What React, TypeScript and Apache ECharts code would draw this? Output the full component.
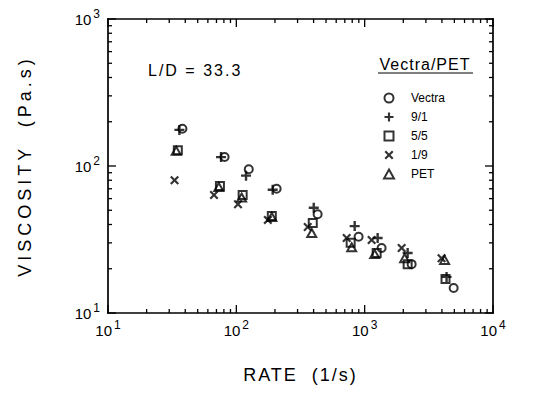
import React, { useEffect, useRef } from "react";
import * as echarts from "echarts";

// ---- data (rate [1/s], viscosity [Pa.s]) ----
const seriesNames = ["Vectra", "9/1", "5/5", "1/9", "PET"];
const vectraData = [[38, 179], [81, 115], [125, 95], [206, 70], [430, 47], [897, 33], [1355, 27.7], [2323, 21.5], [4935, 14.8]];
const blend91Data = [[36, 176], [76, 115], [119, 86], [192, 69], [401, 52], [836, 39], [1262, 32.4], [2162, 25.6], [4347, 17.6]];
const blend55Data = [[35, 128], [74.5, 73], [112, 63.5], [189, 45.7], [394, 41], [778, 30], [1240, 25.6], [2162, 21.5], [4266, 17]];
const blend19Data = [[33, 80], [67, 63.5], [103, 55], [176, 43], [360, 38.5], [724, 32.4], [1133, 31.4], [1941, 27.7], [3972, 23.6]];
const petData = [[34, 127], [73, 72], [110, 61], [189, 45], [387, 35], [792, 28], [1197, 25.2], [2047, 23.6], [4196, 23]];

const xRange = [10, 10000];
const yRange = [10, 1000];
const xTitle = "RATE  (1/s)";
const yTitle = "VISCOSITY  (Pa.s)";
const annotation = "L/D = 33.3";
const legendTitle = "Vectra/PET";

const FONT = "'Liberation Sans', Arial, Helvetica, sans-serif";

const SYM = {
  circle: "path://M5,0A5,5,0,1,1,5,10A5,5,0,1,1,5,0Z",
  plus: "path://M3.8,0H6.2V3.8H10V6.2H6.2V10H3.8V6.2H0V3.8H3.8Z",
  square: "path://M0,0H10V10H0Z",
  cross: "path://M0,1.7L1.7,0L5,3.3L8.3,0L10,1.7L6.7,5L10,8.3L8.3,10L5,6.7L1.7,10L0,8.3L3.3,5Z",
  triangle: "path://M5,0L10,9L0,9Z",
};

// log-paper tick marks (decades and 2..9 within each decade), as [value, length]
function decadeTicks(range: number[]) {
  const out: number[][] = [];
  for (let d = range[0]; d <= range[1]; d *= 10) {
    out.push([d, 8]);
    if (d < range[1]) for (let k = 2; k <= 9; k++) out.push([d * k, 4]);
  }
  return out;
}
const xTickData = decadeTicks(xRange).map(([v, len]) => [v, yRange[0], len]);
const yTickData = decadeTicks(yRange).map(([v, len]) => [xRange[0], v, len]);

const supLabel = (v: number) => `{b|10}{s|${Math.round(Math.log10(v))}}`;
const richSup = {
  b: { fontSize: 15, fontFamily: FONT, color: "#000" },
  s: { fontSize: 12, fontFamily: FONT, color: "#000", padding: [0, 0, 10, 2] },
};

const hiddenAxisParts = {
  axisLine: { show: false, onZero: false },
  axisTick: { show: false },
  minorTick: { show: false },
  splitLine: { show: false },
};

const INK = { fill: "#000" };
const TW = 1.3; // tick thickness
const FW = 1.7; // frame thickness

export default function App() {
  const ref = useRef<HTMLDivElement>(null);
  useEffect(() => {
    document.body.style.margin = "0";
    if (!ref.current) return;
    const el = ref.current;
    const chart = echarts.init(el, undefined, { renderer: "svg" });

    const outlined = { color: "rgba(0,0,0,0)", borderColor: "#000", borderWidth: 2 };
    const filled = { color: "#000", borderWidth: 0 };

    const option: any = {
      animation: false,
      grid: { left: 108, right: 50, top: 19, bottom: 80 },
      xAxis: {
        type: "log",
        min: xRange[0],
        max: xRange[1],
        ...hiddenAxisParts,
        name: xTitle,
        nameLocation: "middle",
        nameGap: 53,
        nameTextStyle: { fontSize: 18, fontFamily: FONT, color: "#000" },
        axisLabel: { margin: 6, formatter: supLabel, rich: richSup },
      },
      yAxis: {
        type: "log",
        min: yRange[0],
        max: yRange[1],
        ...hiddenAxisParts,
        name: yTitle,
        nameLocation: "middle",
        nameGap: 74,
        nameTextStyle: { fontSize: 18, fontFamily: FONT, color: "#000" },
        axisLabel: { margin: 8, formatter: supLabel, rich: richSup },
      },
      legend: {
        data: seriesNames,
        orient: "vertical",
        left: 378,
        top: 86,
        itemWidth: 34,
        itemHeight: 9,
        itemGap: 5,
        selectedMode: false,
        textStyle: { fontSize: 12, fontFamily: FONT, color: "#000", lineHeight: 14 },
      },
      graphic: [
        {
          type: "text",
          x: 148,
          y: 70,
          style: { text: annotation, font: `16px ${FONT}`, fill: "#000", align: "left", verticalAlign: "middle" },
        },
        {
          type: "text",
          x: 425,
          y: 64,
          style: { text: legendTitle, font: `16px ${FONT}`, fill: "#000", align: "center", verticalAlign: "middle" },
        },
        {
          type: "rect",
          shape: { x: 378, y: 72.4, width: 95, height: 1.2 },
          style: { fill: "#000" },
        },
      ],
      series: [
        // plot frame, drawn as four filled bars
        {
          type: "custom",
          clip: false,
          z: 3,
          data: [[xRange[0], yRange[0]]],
          encode: { x: 0, y: 1 },
          renderItem: (_p: any, api: any) => {
            const p0 = api.coord([xRange[0], yRange[0]]);
            const p1 = api.coord([xRange[1], yRange[1]]);
            const h = FW / 2;
            const w = p1[0] - p0[0];
            const ht = p0[1] - p1[1];
            return {
              type: "group",
              children: [
                { type: "rect", shape: { x: p0[0] - h, y: p1[1] - h, width: w + FW, height: FW }, style: INK },
                { type: "rect", shape: { x: p0[0] - h, y: p0[1] - h, width: w + FW, height: FW }, style: INK },
                { type: "rect", shape: { x: p0[0] - h, y: p1[1] - h, width: FW, height: ht + FW }, style: INK },
                { type: "rect", shape: { x: p1[0] - h, y: p1[1] - h, width: FW, height: ht + FW }, style: INK },
              ],
            };
          },
        },
        // x ticks (bottom and top, inward)
        {
          type: "custom",
          clip: false,
          z: 3,
          data: xTickData,
          encode: { x: 0, y: 1 },
          renderItem: (_p: any, api: any) => {
            const v = api.value(0);
            const len = api.value(2);
            const b = api.coord([v, yRange[0]]);
            const t = api.coord([v, yRange[1]]);
            return {
              type: "group",
              children: [
                { type: "rect", shape: { x: b[0] - TW / 2, y: b[1] - len, width: TW, height: len }, style: INK },
                { type: "rect", shape: { x: t[0] - TW / 2, y: t[1], width: TW, height: len }, style: INK },
              ],
            };
          },
        },
        // y ticks (left and right, inward)
        {
          type: "custom",
          clip: false,
          z: 3,
          data: yTickData,
          encode: { x: 0, y: 1 },
          renderItem: (_p: any, api: any) => {
            const v = api.value(1);
            const len = api.value(2);
            const l = api.coord([xRange[0], v]);
            const r = api.coord([xRange[1], v]);
            return {
              type: "group",
              children: [
                { type: "rect", shape: { x: l[0], y: l[1] - TW / 2, width: len, height: TW }, style: INK },
                { type: "rect", shape: { x: r[0] - len, y: r[1] - TW / 2, width: len, height: TW }, style: INK },
              ],
            };
          },
        },
        { name: seriesNames[0], type: "scatter", data: vectraData, symbol: SYM.circle, symbolSize: 8, symbolKeepAspect: true, itemStyle: outlined },
        { name: seriesNames[1], type: "scatter", data: blend91Data, symbol: SYM.plus, symbolSize: 10, symbolKeepAspect: true, itemStyle: filled },
        { name: seriesNames[2], type: "scatter", data: blend55Data, symbol: SYM.square, symbolSize: 8, symbolKeepAspect: true, itemStyle: outlined },
        { name: seriesNames[3], type: "scatter", data: blend19Data, symbol: SYM.cross, symbolSize: 9, symbolKeepAspect: true, itemStyle: filled },
        { name: seriesNames[4], type: "scatter", data: petData, symbol: SYM.triangle, symbolSize: 9, symbolKeepAspect: true, itemStyle: outlined },
      ],
    };
    chart.setOption(option);

    const applySpacing = () => {
      el.querySelectorAll("text").forEach((t) => {
        const s = t.textContent || "";
        if (s === yTitle) t.setAttribute("letter-spacing", "4");
        else if (s === xTitle) t.setAttribute("letter-spacing", "2");
        else if (s === annotation) t.setAttribute("letter-spacing", "2");
        else if (s === legendTitle) t.setAttribute("letter-spacing", "1");
      });
    };
    applySpacing();
    chart.on("finished", applySpacing);

    return () => {
      chart.dispose();
    };
  }, []);
  return <div ref={ref} style={{ width: 543, height: 393 }} />;
}
